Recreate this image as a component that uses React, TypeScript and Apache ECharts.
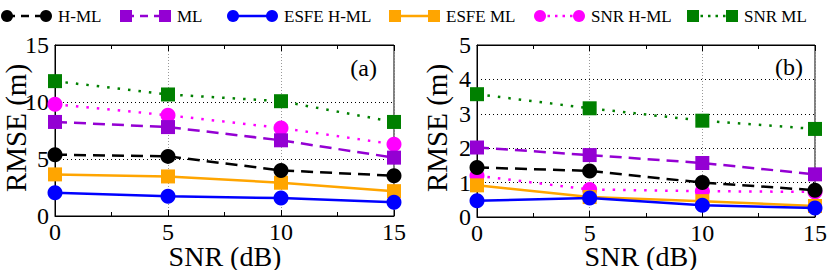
import React, { useEffect, useRef } from "react";
import * as echarts from "echarts";

const snr = [0, 5, 10, 15];
const seriesNames = ["H-ML", "ML", "ESFE H-ML", "ESFE ML", "SNR H-ML", "SNR ML"];

// panel (a)
const aHML = [5.38, 5.23, 4.0, 3.53];
const aML = [8.25, 7.8, 6.64, 5.12];
const aEsfeHML = [2.04, 1.74, 1.57, 1.21];
const aEsfeML = [3.65, 3.47, 2.92, 2.18];
const aSnrHML = [9.8, 8.84, 7.72, 6.29];
const aSnrML = [11.83, 10.66, 10.07, 8.25];

// panel (b)
const bHML = [1.44, 1.34, 1.0, 0.78];
const bML = [2.02, 1.8, 1.57, 1.24];
const bEsfeHML = [0.47, 0.55, 0.34, 0.26];
const bEsfeML = [0.92, 0.58, 0.46, 0.32];
const bSnrHML = [1.2, 0.8, 0.75, 0.73];
const bSnrML = [3.57, 3.16, 2.8, 2.56];

const panelLabels = ["(a)", "(b)"];
const xTitle = "SNR (dB)";
const yTitle = "RMSE (m)";
const yMax = [15, 5];
const yInterval = [5, 1];

const FONT = "Liberation Serif";
const colors = ["#000000", "#9400D3", "#0000FF", "#FFA500", "#FF00FF", "#008000"];
const symbols = ["circle", "rect", "circle", "rect", "circle", "rect"];
const dashes: any[] = [[12, 7], [12, 7], "solid", "solid", [2.5, 8], [2.5, 8]];
const legendDashes: any[] = [[8, 6], [8, 6], null, null, [2.5, 5], [2.5, 5]];

const tickRich = { t: { fontFamily: FONT, fontSize: 24, color: "#000", lineHeight: 19 } };

export default function App() {
  const ref = useRef<HTMLDivElement>(null);
  useEffect(() => {
    document.body.style.margin = "0";
    const chart = echarts.init(ref.current!, null, { renderer: "svg" });
    const panels = [
      [aHML, aML, aEsfeHML, aEsfeML, aSnrHML, aSnrML],
      [bHML, bML, bEsfeHML, bEsfeML, bSnrHML, bSnrML],
    ];
    const grids = [
      { left: 55, top: 45, width: 339, height: 171, show: true, borderColor: "#000", borderWidth: 1 },
      { left: 477, top: 45, width: 340, height: 172, show: true, borderColor: "#000", borderWidth: 1 },
    ];
    const xAxes: any[] = [];
    const yAxes: any[] = [];
    [0, 1].forEach((g) => {
      xAxes.push({
        type: "value",
        gridIndex: g,
        min: 0,
        max: 15,
        interval: 5,
        position: "bottom",
        axisLine: { lineStyle: { color: "#000", width: 1 } },
        axisTick: { inside: true, length: 6, lineStyle: { color: "#000" } },
        minorTick: { show: true, splitNumber: 2, length: 4, lineStyle: { color: "#000" } },
        axisLabel: { formatter: "{t|{value}}", rich: tickRich, margin: 6 },
        splitLine: { show: true, lineStyle: { color: "#999", type: [1, 2], width: 1 } },
      });
      xAxes.push({
        type: "value",
        gridIndex: g,
        min: 0,
        max: 15,
        interval: 5,
        position: "top",
        axisLine: { lineStyle: { color: "#000", width: 1 } },
        axisTick: { inside: true, length: 6, lineStyle: { color: "#000" } },
        minorTick: { show: true, splitNumber: 2, length: 4, lineStyle: { color: "#000" } },
        axisLabel: { show: false },
        splitLine: { show: false },
      });
      yAxes.push({
        type: "value",
        gridIndex: g,
        min: 0,
        max: yMax[g],
        interval: yInterval[g],
        axisLine: { show: true, lineStyle: { color: "#000", width: 1 } },
        axisTick: { show: false },
        axisLabel: { formatter: "{t|{value}}", rich: tickRich, margin: 6 },
        splitLine: { show: true, lineStyle: { color: "#000", type: [1, 3], width: 1 } },
      });
    });
    const series: any[] = [];
    panels.forEach((data, g) => {
      data.forEach((vals, i) => {
        series.push({
          type: "line",
          name: seriesNames[i],
          xAxisIndex: g * 2,
          yAxisIndex: g,
          data: snr.map((x, k) => [x, vals[k]]),
          symbol: symbols[i],
          symbolSize: symbols[i] === "circle" ? 15 : 14,
          showSymbol: true,
          itemStyle: { color: colors[i] },
          lineStyle: { color: colors[i], width: 2.5, type: dashes[i], cap: "butt" },
          z: 10 - i,
        });
      });
    });

    // gnuplot-style legend: marker - line - marker, then label
    const legendX = [7, 126, 233, 395, 540, 693];
    const legendY = 16;
    const els: any[] = [];
    seriesNames.forEach((n, i) => {
      const x1 = legendX[i];
      const x2 = x1 + 39;
      els.push({
        type: "line",
        shape: { x1, y1: legendY, x2, y2: legendY },
        style: { stroke: colors[i], lineWidth: 2.5, lineDash: legendDashes[i] },
      });
      [x1, x2].forEach((cx) => {
        if (symbols[i] === "circle") {
          els.push({ type: "circle", shape: { cx, cy: legendY, r: 6 }, style: { fill: colors[i] } });
        } else {
          els.push({ type: "rect", shape: { x: cx - 6, y: legendY - 6, width: 12, height: 12 }, style: { fill: colors[i] } });
        }
      });
      els.push({
        type: "text",
        x: x2 + 12,
        y: legendY,
        style: { text: n, fontFamily: FONT, fontSize: 17, fill: "#000", textVerticalAlign: "middle" },
      });
    });
    // panel labels and axis titles
    const panelLabelPos = [[377, 68], [803, 67]];
    const xTitleX = [225, 641];
    const yTitleX = [16, 437];
    [0, 1].forEach((g) => {
      els.push({
        type: "text",
        x: panelLabelPos[g][0],
        y: panelLabelPos[g][1],
        style: { text: panelLabels[g], fontFamily: FONT, fontSize: 24, fill: "#000", textAlign: "right", textVerticalAlign: "middle" },
      });
      els.push({
        type: "text",
        x: xTitleX[g],
        y: 256,
        style: { text: xTitle, fontFamily: FONT, fontSize: 28, lineHeight: 22, fill: "#000", textAlign: "center", textVerticalAlign: "middle" },
      });
      els.push({
        type: "text",
        x: yTitleX[g],
        y: 128,
        rotation: Math.PI / 2,
        style: { text: yTitle, fontFamily: FONT, fontSize: 29, lineHeight: 25, fill: "#000", textAlign: "center", textVerticalAlign: "middle" },
      });
    });

    chart.setOption({
      animation: false,
      backgroundColor: "#fff",
      grid: grids,
      xAxis: xAxes,
      yAxis: yAxes,
      series,
      graphic: els,
    });
    return () => chart.dispose();
  }, []);
  return <div ref={ref} style={{ width: 830, height: 270 }} />;
}
